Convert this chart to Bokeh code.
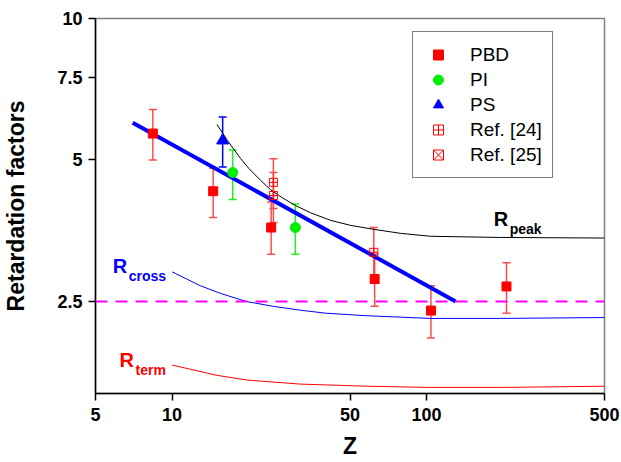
from bokeh.plotting import figure
from bokeh.models import (ColumnDataSource, Whisker, TeeHead, Legend, LegendItem, Label,
                          Span, FixedTicker, CustomJSTickFormatter, Range1d)
from bokeh.embed import file_html
from bokeh.resources import INLINE

# ---------------- data ----------------
pbd_z = [8.4, 14.5, 24.5, 62.5, 104, 206]
pbd_r = [5.69, 4.29, 3.59, 2.79, 2.39, 2.69]
pbd_lo = [5.00, 3.77, 3.15, 2.44, 2.09, 2.36]
pbd_hi = [6.40, 4.80, 4.07, 3.15, 2.70, 3.02]

pi_z = [17.3, 30.5]
pi_r = [4.70, 3.59]
pi_lo = [4.12, 3.15]
pi_hi = [5.25, 4.03]

ps_z = [15.8]
ps_r = [5.50]
ps_lo = [4.83]
ps_hi = [6.17]

ref24_z = [25, 25, 62]
ref24_r = [4.48, 4.20, 3.18]
ref24_lo = [3.94, 3.68, 2.82]
ref24_hi = [5.03, 4.70, 3.59]

# Ref. [25]: no point visible in the plotted area (legend entry only)
ref25_z = [float("nan")]
ref25_r = [float("nan")]

fit_z = [7, 130]
fit_r = [6.0, 2.5]

peak_z = [15.0, 16.5, 18.6, 20.0, 22.3, 24.4, 27.0, 30.5, 35.0, 41.9, 50.1, 61.8, 78.9, 103.6, 195, 500]
peak_r = [5.95, 5.50, 5.03, 4.80, 4.52, 4.32, 4.16, 4.00, 3.86, 3.72, 3.63, 3.56, 3.49, 3.44, 3.42, 3.41]

cross_z = [10.0, 11.4, 12.9, 15.5, 19.5, 25.0, 31.9, 40.0, 58.4, 103.6, 195, 500]
cross_r = [2.89, 2.79, 2.70, 2.60, 2.50, 2.44, 2.395, 2.36, 2.33, 2.30, 2.30, 2.31]

term_z = [10.0, 12.5, 15.0, 19.8, 31.9, 58.4, 103.6, 195, 500]
term_r = [1.83, 1.78, 1.74, 1.70, 1.667, 1.65, 1.64, 1.64, 1.65]

threshold = 2.5

x_ticks = [5, 10, 50, 100, 500]
y_ticks = [2.5, 5, 7.5, 10]

FONT = "Liberation Sans"

# ---------------- figure ----------------
p = figure(width=621, height=462, x_axis_type="log", y_axis_type="log",
           x_range=Range1d(5, 500), y_range=Range1d(1.592, 10),
           output_backend="svg", toolbar_location=None,
           min_border_left=95, min_border_right=17, min_border_top=18, min_border_bottom=69)
p.xgrid.visible = False
p.ygrid.visible = False
p.outline_line_color = "#808080"
p.outline_line_width = 1.5
p.background_fill_color = "white"
p.border_fill_color = "white"

p.xaxis.ticker = FixedTicker(ticks=x_ticks)
p.yaxis.ticker = FixedTicker(ticks=y_ticks)
p.xaxis.formatter = CustomJSTickFormatter(code="return String(tick);")
p.yaxis.formatter = CustomJSTickFormatter(code="return String(tick);")
p.xaxis.axis_label = "Z"
p.yaxis.axis_label = "Retardation factors"
for ax in (p.xaxis[0], p.yaxis[0]):
    ax.axis_line_color = "black"
    ax.axis_line_width = 1.5
    ax.major_tick_line_color = "black"
    ax.major_tick_line_width = 1.5
    ax.major_tick_out = 7
    ax.major_tick_in = 0
    ax.minor_tick_line_color = None
    ax.major_label_text_font = FONT
    ax.major_label_text_font_style = "bold"
    ax.major_label_text_font_size = "18px"
    ax.major_label_text_color = "black"
    ax.axis_label_text_font = FONT
    ax.axis_label_text_font_style = "bold"
    ax.axis_label_text_font_size = "23px"
    ax.axis_label_text_color = "black"
p.xaxis.major_label_standoff = 7
p.xaxis.axis_label_standoff = 9
p.yaxis.major_label_standoff = 6
p.yaxis.axis_label_standoff = 25

# reference line
p.add_layout(Span(location=threshold, dimension="width", line_color="#ff00ff",
                  line_width=2, line_dash="12 8"))

# error bars
def errbars(z, lo, hi, color):
    src = ColumnDataSource(dict(z=z, lo=lo, hi=hi))
    w = Whisker(source=src, base="z", lower="lo", upper="hi",
                line_color=color, line_width=1.5, level="underlay",
                lower_head=TeeHead(size=8, line_color=color, line_width=1.5),
                upper_head=TeeHead(size=8, line_color=color, line_width=1.5))
    p.add_layout(w)

errbars(pbd_z, pbd_lo, pbd_hi, "#ff4a4a")
errbars(ref24_z, ref24_lo, ref24_hi, "#ff4a4a")
errbars(pi_z, pi_lo, pi_hi, "#22ee22")
errbars(ps_z, ps_lo, ps_hi, "#0000ff")

# curves
p.line(term_z, term_r, line_color="#ff0000", line_width=1)
p.line(cross_z, cross_r, line_color="#0000ff", line_width=1)
p.line(peak_z, peak_r, line_color="black", line_width=1)
p.line(fit_z, fit_r, line_color="#0000ff", line_width=4)

# points
r_pbd = p.scatter(pbd_z, pbd_r, marker="square", size=9, fill_color="#ff0000", line_color="#ff0000")
r_pi = p.scatter(pi_z, pi_r, marker="circle", size=10, fill_color="#00ee00", line_color="#00ee00")
r_ps = p.scatter(ps_z, ps_r, marker="triangle", size=12, fill_color="#0000ff", line_color="#0000ff")
r_24 = p.scatter(ref24_z, ref24_r, marker="square_cross", size=8, fill_color=None, line_color="#ff0000", line_width=1)
r_25 = p.scatter(ref25_z, ref25_r, marker="square_x", size=8, fill_color=None, line_color="#ff0000", line_width=1)

legend = Legend(items=[LegendItem(label="PBD", renderers=[r_pbd]),
                       LegendItem(label="PI", renderers=[r_pi]),
                       LegendItem(label="PS", renderers=[r_ps]),
                       LegendItem(label="Ref. [24]", renderers=[r_24]),
                       LegendItem(label="Ref. [25]", renderers=[r_25])],
                location=(317, 215), margin=0, padding=10, spacing=0,
                glyph_width=30, glyph_height=25, label_height=25, label_standoff=17,
                label_text_font=FONT, label_text_font_size="19px", label_text_color="black",
                border_line_color="black", border_line_width=1,
                background_fill_color="white", background_fill_alpha=1)
p.add_layout(legend)

# curve labels
def rlabel(x, y, xs, ys, sub, color):
    p.add_layout(Label(x=x, y=y, text="R", text_color=color, text_font=FONT,
                       text_font_style="bold", text_font_size="20px", text_baseline="alphabetic"))
    p.add_layout(Label(x=xs, y=ys, text=sub, text_color=color, text_font=FONT,
                       text_font_style="bold", text_font_size="14px", text_baseline="alphabetic"))

rlabel(183.6, 3.75, 212, 3.57, "peak", "black")
rlabel(5.85, 2.97, 6.75, 2.83, "cross", "#0000ff")
rlabel(6.21, 1.878, 7.18, 1.79, "term", "#ff0000")

open("out.html", "w").write(file_html(p, INLINE))
